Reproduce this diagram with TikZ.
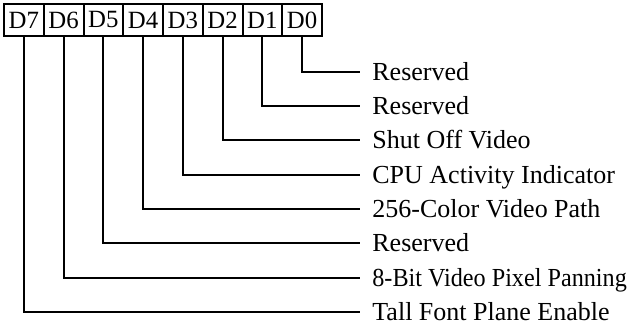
\documentclass[tikz,border=0pt]{standalone}
\usepackage{fontspec}
\setmainfont{Liberation Serif}
\begin{document}
\begin{tikzpicture}[x=0.5pt,y=-0.5pt,
  bitbox/.style={draw,line width=1pt,minimum width=19.875pt,minimum height=16pt,inner sep=0pt,font=\fontsize{12.4}{14}\selectfont},
  desc/.style={anchor=west,inner xsep=6pt,inner ysep=0pt,text height=8.6pt,text depth=0pt,font=\fontsize{13}{15}\selectfont},
  tight/.style={font=\fontsize{13}{15}\selectfont\addfontfeature{FakeStretch=#1}},
  conn/.style={line width=1pt}]
\useasboundingbox (0,0) rectangle (633,326);
\foreach \i/\t in {7/D7,6/D6,5/D5,4/D4,3/D3,2/D2,1/D1,0/D0}{
  \node[bitbox] (b\i) at ({4+39.75*(7-\i)+19.875},20) {\t};
}
\node[desc] (l0) at (360,72) {Reserved};
\node[desc] (l1) at (360,106) {Reserved};
\node[desc] (l2) at (360,140) {Shut Off Video};
\node[desc] (l3) at (360,175) {CPU Activity Indicator};
\node[desc] (l4) at (360,209) {256-Color Video Path};
\node[desc] (l5) at (360,243) {Reserved};
\node[desc,tight=0.93] (l6) at (360,278) {8-Bit Video Pixel Panning};
\node[desc] (l7) at (360,312) {Tall Font Plane Enable};
\foreach \i in {0,...,7}{
  \draw[conn] (b\i.south) |- (l\i.west);
}
\end{tikzpicture}
\end{document}
